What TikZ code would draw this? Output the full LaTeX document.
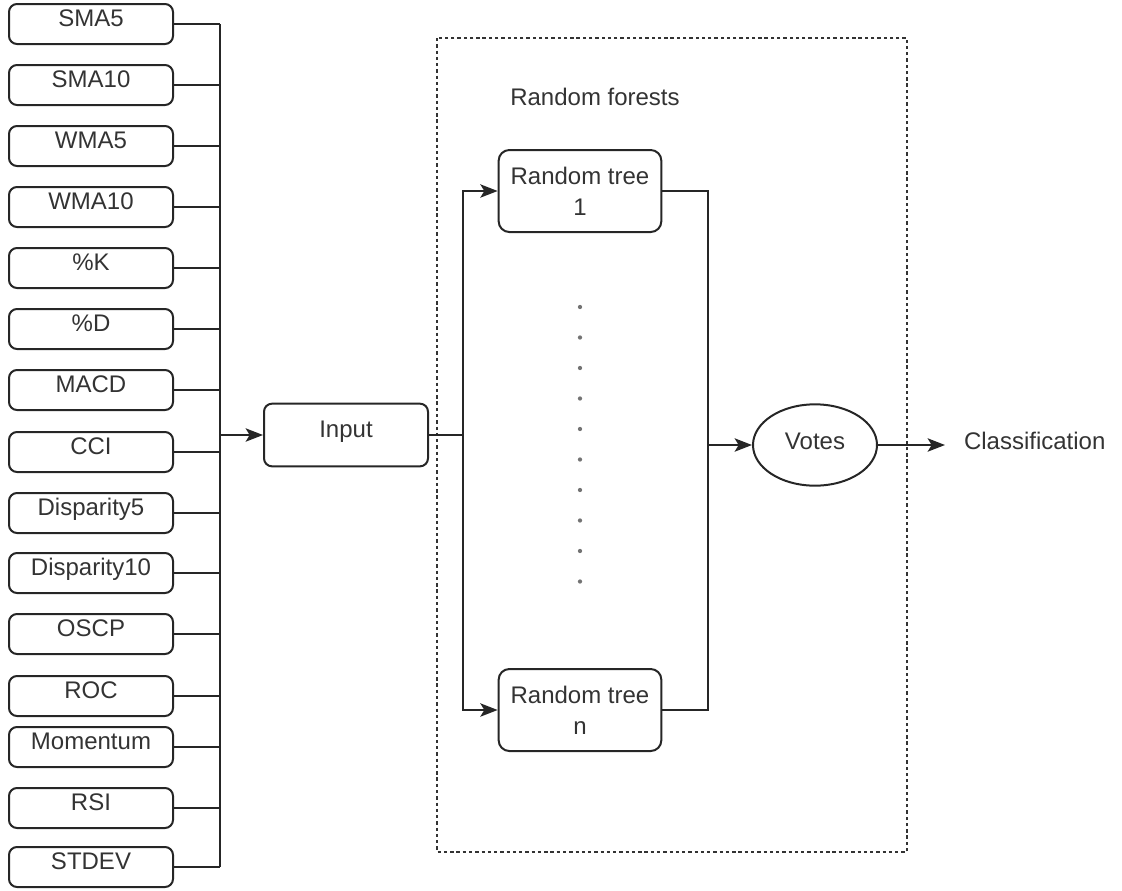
\documentclass[tikz,border=0pt]{standalone}
\usepackage{fontspec}
\setmainfont{Liberation Sans}
\usetikzlibrary{arrows.meta,shapes.geometric}

\tikzset{every picture/.style={line width=1.5pt}}
\tikzset{
txt/.style={text=black!80, font=\fontsize{18}{23}\selectfont},
feat/.style={txt, draw=black!85, rounded corners=6pt, minimum width=123pt, minimum height=30pt, inner sep=0pt, text height=13pt, text depth=9pt},
tree/.style={txt, draw=black!85, rounded corners=8pt, minimum width=122pt, minimum height=61.5pt, inner sep=0pt, align=center},
vote/.style={txt, draw=black!85, ellipse, minimum width=93pt, minimum height=61pt, inner sep=0pt, text height=13pt, text depth=7pt},
wire/.style={draw=black!85},
arr/.style={wire, -{Stealth[length=13pt,width=10pt,inset=3pt]}},
frame/.style={draw=black!80, dash pattern=on 2.5pt off 2.2pt}
}

\begin{document}
\begin{tikzpicture}[x=0.75pt,y=0.75pt,yscale=-1,xscale=1]
\useasboundingbox (0,0) rectangle (1122,890);

% feature boxes
\node [feat] (sma5) at (91,24) {SMA5};
\node [feat] (sma10) at (91,85) {SMA10};
\node [feat] (wma5) at (91,146) {WMA5};
\node [feat] (wma10) at (91,207) {WMA10};
\node [feat] (pk) at (91,268) {\%K};
\node [feat] (pd) at (91,329) {\%D};
\node [feat] (macd) at (91,390) {MACD};
\node [feat] (cci) at (91,452) {CCI};
\node [feat] (disp5) at (91,513) {Disparity5};
\node [feat] (disp10) at (91,573) {Disparity10};
\node [feat] (oscp) at (91,634) {OSCP};
\node [feat] (roc) at (91,696) {ROC};
\node [feat] (mom) at (91,747) {Momentum};
\node [feat] (rsi) at (91,808) {RSI};
\node [feat] (stdev) at (91,867) {STDEV};

% bus
\coordinate (bustop) at (220,24);
\coordinate (busbot) at (220,867);
\draw [wire] (bustop) -- (busbot);
\draw [wire] (sma5.east) -- (sma5.east -| bustop);
\draw [wire] (sma10.east) -- (sma10.east -| bustop);
\draw [wire] (wma5.east) -- (wma5.east -| bustop);
\draw [wire] (wma10.east) -- (wma10.east -| bustop);
\draw [wire] (pk.east) -- (pk.east -| bustop);
\draw [wire] (pd.east) -- (pd.east -| bustop);
\draw [wire] (macd.east) -- (macd.east -| bustop);
\draw [wire] (cci.east) -- (cci.east -| bustop);
\draw [wire] (disp5.east) -- (disp5.east -| bustop);
\draw [wire] (disp10.east) -- (disp10.east -| bustop);
\draw [wire] (oscp.east) -- (oscp.east -| bustop);
\draw [wire] (roc.east) -- (roc.east -| bustop);
\draw [wire] (mom.east) -- (mom.east -| bustop);
\draw [wire] (rsi.east) -- (rsi.east -| bustop);
\draw [wire] (stdev.east) -- (stdev.east -| bustop);

% input
\node [feat, minimum height=47pt] (input) at (346,435) {Input};
\draw [arr] (input.west -| bustop) -- (input.west);

% random forest frame
\draw [frame] (437,38) rectangle (907,852);
\node [txt] (rf) at (595,97) {Random forests};

\node [tree] (tree1) at (580,191) {Random tree\\1};
\node [tree] (treen) at (580,710) {Random tree\\n};

% dots between the trees
\foreach \k in {0,...,9}
  \fill [black!55] (580,307+30.5*\k) circle (1.6pt);

\coordinate (split) at (463,435);
\draw [wire] (input.east) -- (split);
\draw [arr] (split) |- (tree1.west);
\draw [arr] (split) |- (treen.west);

% votes
\node [vote] (votes) at (815,445) {Votes};
\coordinate (join) at (708,445);
\draw [wire] (tree1.east) -| (join);
\draw [wire] (treen.east) -| (join);
\draw [arr] (join) -- (votes.west);

\node [txt, anchor=west, inner xsep=13.5pt, inner ysep=0pt, text height=13pt, text depth=7pt] (cls) at (945,445) {Classification};
\draw [arr] (votes.east) -- (cls.west);

\end{tikzpicture}
\end{document}
